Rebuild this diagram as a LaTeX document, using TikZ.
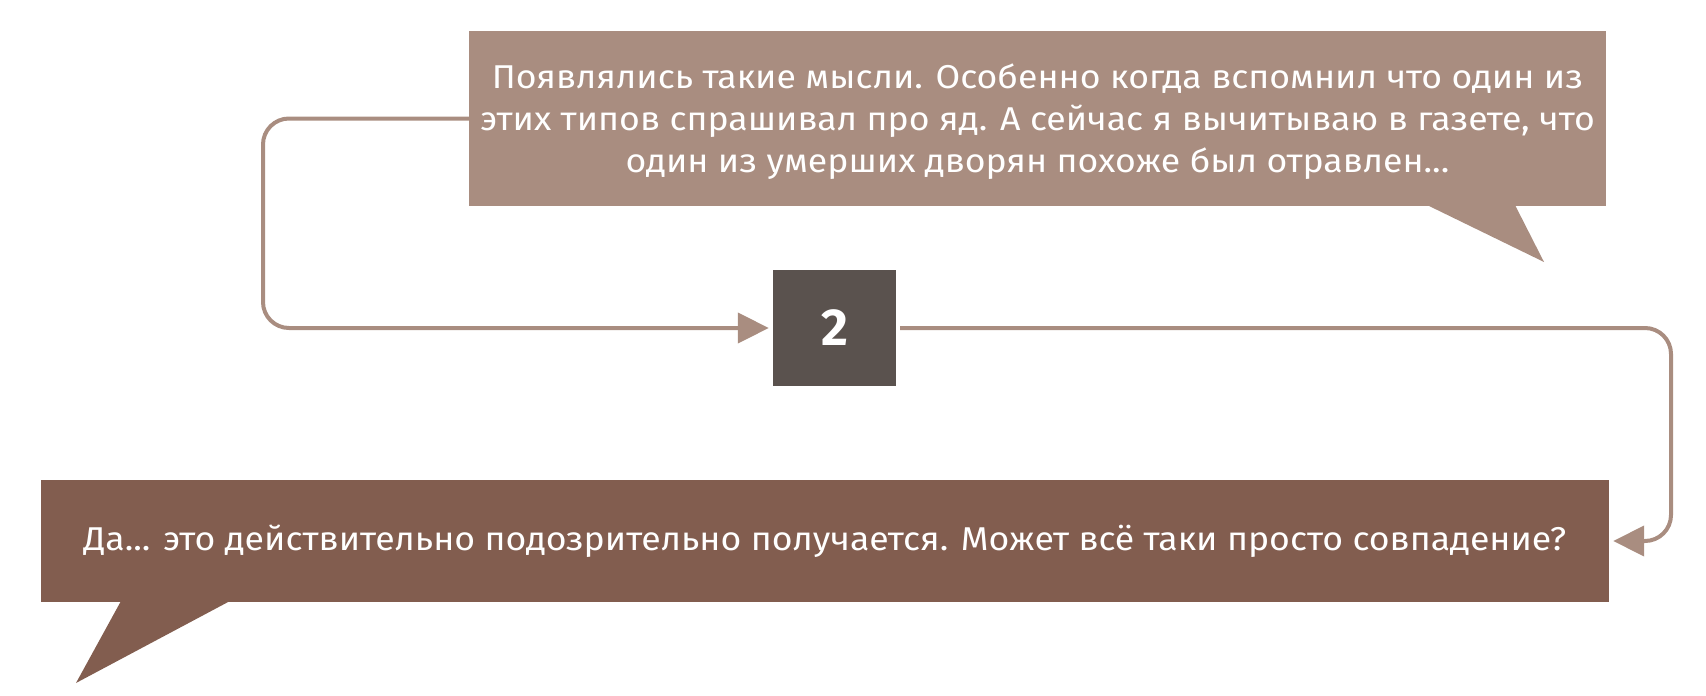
\documentclass[tikz,border=0pt]{standalone}
\usepackage{fontspec}
\setmainfont{Fira Sans}
\newfontfamily\widefira{Fira Sans}[FakeStretch=1.08]
\usetikzlibrary{arrows.meta}
\definecolor{lightbrown}{HTML}{A98D80}
\definecolor{darkbrown}{HTML}{825D4F}
\definecolor{boxgray}{HTML}{5A524E}
\tikzset{
  bubble/.style={inner sep=0pt, text=white, align=center, font=\widefira\fontsize{33}{42}\selectfont},
  numbox/.style={fill=boxgray, inner sep=0pt, minimum width=123pt, minimum height=116pt, text=white, font=\bfseries\fontsize{52}{60}\selectfont},
  link/.style={draw=lightbrown, line width=4pt, rounded corners=26pt, -{Triangle[length=31pt,width=30pt]}, shorten >=4pt}
}
\begin{document}
\begin{tikzpicture}[x=1pt,y=-1pt]
\useasboundingbox (0,0) rectangle (1706,696);
% top bubble
\node[bubble, fill=lightbrown, minimum width=1137pt, minimum height=175pt] (q1) at (1037.5,118.5) {};
\node[bubble] (t1) at (1037.5,121.5)
  {Появлялись такие мысли. Особенно когда вспомнил что один из\\этих типов спрашивал про яд. А сейчас я вычитываю в газете, что\\один из умерших дворян похоже был отравлен...};
\fill[lightbrown] (1427,205) -- (1544,262) -- (1515,205) -- cycle;
% number box
\node[numbox] (n2) at (834.5,328) {2};
% bottom bubble
\node[bubble, fill=darkbrown, minimum width=1568pt, minimum height=122pt] (q2) at (825,541)
  {Да... это действительно подозрительно получается. Может всё таки просто совпадение?};
\fill[darkbrown] (121,601) -- (76,683) -- (230,601) -- cycle;
% connectors
\coordinate (c1) at (263,118.5);
\coordinate (c2) at (263,328);
\coordinate (c3) at (1671,328);
\coordinate (c4) at (1671,541);
\draw[link] (q1.west) -- (c1) -- (c2) -- (n2.west);
\draw[link, shorten <=4pt] (n2.east) -- (c3) -- (c4) -- (q2.east);
\end{tikzpicture}
\end{document}
